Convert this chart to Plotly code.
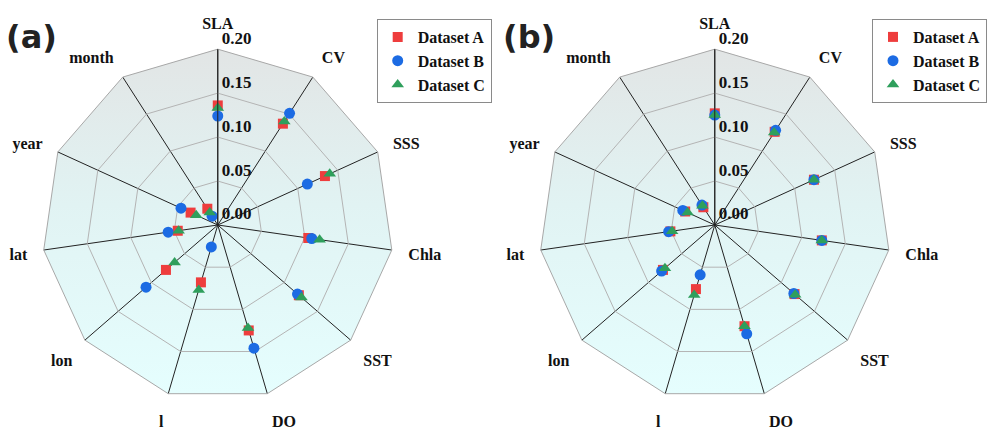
import base64
import math
import plotly.graph_objects as go

categories = ["SLA", "CV", "SSS", "Chla", "SST", "DO", "l", "lon", "lat", "year", "month"]
series_names = ["Dataset A", "Dataset B", "Dataset C"]

a_A = [0.136, 0.137, 0.134, 0.104, 0.122, 0.125, 0.068, 0.078, 0.046, 0.034, 0.022]
a_B = [0.124, 0.151, 0.112, 0.108, 0.120, 0.146, 0.026, 0.108, 0.057, 0.046, 0.012]
a_C = [0.133, 0.140, 0.140, 0.117, 0.126, 0.122, 0.077, 0.065, 0.045, 0.027, 0.017]

b_A = [0.127, 0.126, 0.124, 0.123, 0.120, 0.120, 0.076, 0.078, 0.051, 0.037, 0.024]
b_B = [0.125, 0.128, 0.124, 0.123, 0.119, 0.129, 0.059, 0.080, 0.053, 0.040, 0.027]
b_C = [0.125, 0.125, 0.124, 0.123, 0.121, 0.120, 0.083, 0.075, 0.049, 0.034, 0.026]

radial_ticks = [0.0, 0.05, 0.10, 0.15, 0.20]
radial_ticktext = ["0.00", "0.05", "0.10", "0.15", "0.20"]

colors = ["#ee3d3d", "#1c6be3", "#2f9f5c"]
symbols = ["square", "circle", "triangle-up"]
sizes = [10, 11, 11]

W, H = 987, 430
R = 176
centers = [(218, 225), (715.5, 225)]
SERIF = "Liberation Serif"


def bg_svg(r, n):
    pts = []
    for k in range(n):
        ang = math.radians(k * 360.0 / n)
        pts.append(f"{r + r*math.sin(ang):.2f},{r - r*math.cos(ang):.2f}")
    bottom = r + r * math.cos(math.radians(180.0 / n))
    svg = (
        f'<svg xmlns="http://www.w3.org/2000/svg" width="{2*r}" height="{2*r}" viewBox="0 0 {2*r} {2*r}">'
        f'<defs><linearGradient id="g" gradientUnits="userSpaceOnUse" x1="0" y1="0" x2="0" y2="{bottom:.2f}">'
        '<stop offset="0" stop-color="#e2e5e5"/>'
        '<stop offset="0.45" stop-color="#e1f3f3"/>'
        '<stop offset="1" stop-color="#e5fefe"/>'
        '</linearGradient></defs>'
        f'<polygon points="{" ".join(pts)}" fill="url(#g)"/></svg>'
    )
    return "data:image/svg+xml;base64," + base64.b64encode(svg.encode()).decode()


fig = go.Figure()
datasets = [[a_A, a_B, a_C], [b_A, b_B, b_C]]
for p, data in enumerate(datasets):
    pname = "polar" if p == 0 else "polar2"
    lname = "legend" if p == 0 else "legend2"
    for i, vals in enumerate(data):
        fig.add_trace(go.Scatterpolar(
            r=vals, theta=categories, mode="markers", name=series_names[i],
            marker=dict(color=colors[i], symbol=symbols[i], size=sizes[i], line=dict(width=0)),
            subplot=pname, legend=lname, showlegend=True,
        ))

polar_common = dict(
    bgcolor="rgba(0,0,0,0)",
    gridshape="linear",
    radialaxis=dict(
        range=[0, 0.2], tickvals=radial_ticks,
        ticktext=[t + "<br> " for t in radial_ticktext],
        angle=90, tickangle=90, side="clockwise",
        showline=True, linecolor="#222", linewidth=1,
        gridcolor="#b4b4b4", gridwidth=1, ticks="",
        tickfont=dict(family=SERIF, size=17, color="#111", weight="bold"),
        layer="above traces",
    ),
    angularaxis=dict(
        categoryorder="array", categoryarray=categories,
        direction="clockwise", rotation=90,
        showline=True, linecolor="#a8a8a8", linewidth=1,
        gridcolor="#222", gridwidth=1,
        ticks="outside", ticklen=13, tickcolor="rgba(0,0,0,0)",
        tickfont=dict(family=SERIF, size=16, color="#111", weight="bold"),
        layer="below traces",
    ),
)

layout_kw = {}
images = []
for p, (cx, cy) in enumerate(centers):
    dom = dict(x=[(cx - R) / W, (cx + R) / W], y=[1 - (cy + R) / H, 1 - (cy - R) / H])
    key = "polar" if p == 0 else "polar2"
    layout_kw[key] = dict(domain=dom, **polar_common)
    images.append(dict(
        source=bg_svg(R, len(categories)), xref="paper", yref="paper",
        x=(cx - R) / W, y=1 - (cy - R) / H, sizex=2 * R / W, sizey=2 * R / H,
        xanchor="left", yanchor="top", sizing="stretch", layer="below",
    ))

legend_common = dict(
    bgcolor="white", bordercolor="#8a8a8a", borderwidth=1,
    font=dict(family=SERIF, size=16, color="#111", weight="bold"),
    xanchor="left", yanchor="top", tracegroupgap=0,
)

fig.update_layout(
    width=W, height=H,
    margin=dict(l=0, r=0, t=0, b=0),
    paper_bgcolor="white", plot_bgcolor="white",
    images=images,
    legend=dict(x=376.7 / W, y=1 - 19 / H, **legend_common),
    legend2=dict(x=872.7 / W, y=1 - 19 / H, **legend_common),
    annotations=[
        dict(text="<b>(a)</b>", x=32 / W, y=1 - 37 / H, xref="paper", yref="paper",
             showarrow=False, xanchor="center", yanchor="middle",
             font=dict(family="DejaVu Sans", size=32, color="#222")),
        dict(text="<b>(b)</b>", x=530 / W, y=1 - 37 / H, xref="paper", yref="paper",
             showarrow=False, xanchor="center", yanchor="middle",
             font=dict(family="DejaVu Sans", size=32, color="#222")),
    ],
    **layout_kw,
)

fig.write_html("out.html")
